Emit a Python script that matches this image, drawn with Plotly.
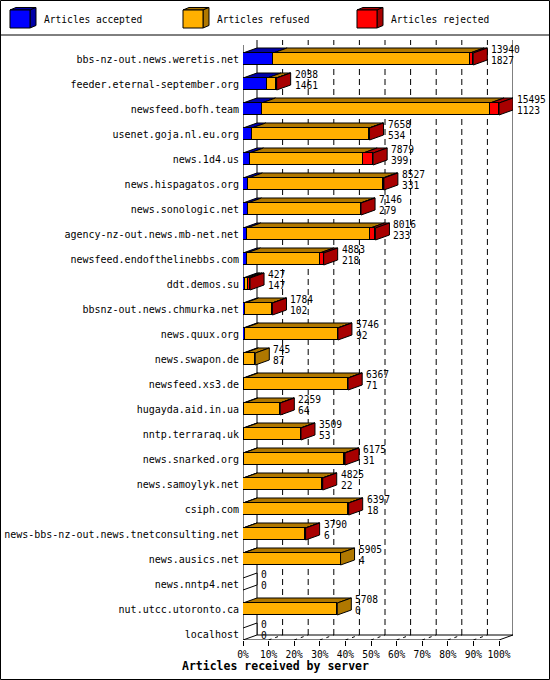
import plotly.graph_objects as go

# servers, sorted by accepted articles
servers = [
    "bbs-nz-out.news.weretis.net", "feeder.eternal-september.org", "newsfeed.bofh.team",
    "usenet.goja.nl.eu.org", "news.1d4.us", "news.hispagatos.org", "news.sonologic.net",
    "agency-nz-out.news.mb-net.net", "newsfeed.endofthelinebbs.com", "ddt.demos.su",
    "bbsnz-out.news.chmurka.net", "news.quux.org", "news.swapon.de", "newsfeed.xs3.de",
    "hugayda.aid.in.ua", "nntp.terraraq.uk", "news.snarked.org", "news.samoylyk.net",
    "csiph.com", "news-bbs-nz-out.news.tnetconsulting.net", "news.ausics.net",
    "news.nntp4.net", "nut.utcc.utoronto.ca", "localhost",
]
offered = [13940, 2038, 15495, 7658, 7879, 8527, 7146, 8016, 4883, 427, 1784, 5746,
           745, 6367, 2259, 3509, 6175, 4825, 6397, 3790, 5905, 0, 5708, 0]
accepted = [1827, 1461, 1123, 534, 399, 331, 279, 233, 218, 147, 102, 92,
            87, 71, 64, 53, 31, 22, 18, 6, 4, 0, 0, 0]
rejected = [200, 20, 545, 30, 605, 60, 30, 300, 240, 120, 20, 20,
            0, 15, 20, 20, 40, 15, 15, 15, 0, 0, 0, 0]
refused = [o - a - r for o, a, r in zip(offered, accepted, rejected)]

series = ["Articles accepted", "Articles refused", "Articles rejected"]
front = ["#0000FF", "#FFB000", "#FF0000"]
dark = ["#0000A8", "#B07800", "#A80000"]
pct_ticks = list(range(0, 101, 10))

FONT = "DejaVu Sans Mono"
W, H = 550, 680
L, R, T, B = 243, 37, 40, 40
plot_w = W - L - R
plot_h = H - T - B
px_x = 2.56          # pixels per percent
px_y = 25.0          # pixels per row
row0 = 59 - T        # first row centre, pixels below plot top
dxu = 14 / px_x      # depth in data units
dyu = 5 / px_y
bar_h = 12 / px_y

y_bot = (plot_h - row0) / px_y
y_top = -row0 / px_y

top = max(offered)
rows = list(range(len(servers)))
segs = [[v / top * 100 for v in s] for s in (accepted, refused, rejected)]

fig = go.Figure()
for k in range(3):
    base = [sum(segs[j][i] for j in range(k)) for i in rows]
    fig.add_trace(go.Bar(
        y=rows, x=segs[k], base=base, orientation="h", width=bar_h,
        marker=dict(color=front[k], line=dict(color="black", width=1)),
        name=series[k], showlegend=False, hoverinfo="skip"))

shapes = []


def line(x0, y0, x1, y1, dash="solid", xref="x", yref="y"):
    shapes.append(dict(type="line", x0=x0, y0=y0, x1=x1, y1=y1, xref=xref, yref=yref,
                       layer="below", line=dict(color="black", width=1, dash=dash)))


def poly(pts, fill, xref="x", yref="y", layer="below"):
    path = "M " + " L ".join("%f,%f" % p for p in pts) + " Z"
    shapes.append(dict(type="path", path=path, xref=xref, yref=yref, layer=layer,
                       fillcolor=fill, line=dict(color="black", width=1)))


# back wall grid and frame
yb = y_bot - dyu
for p in pct_ticks[1:-1]:
    line(p + dxu, yb, p + dxu, y_top, dash="6px,4px")
    line(p, y_bot, p + dxu, yb, dash="3px,4px")
line(dxu, yb, dxu, y_top)
line(100 + dxu, yb, 100 + dxu, y_top)
line(dxu, yb, 100 + dxu, yb)
line(0, y_bot, 100, y_bot)
line(100, y_bot, 100 + dxu, yb)
line(0, y_bot, 0, y_top + 5 / px_y)
line(-dxu * 1.1, y_bot + dyu, 0, y_bot)

# top and side faces of the bars
for i in rows:
    yt = i - bar_h / 2
    ybm = i + bar_h / 2
    x0 = 0
    last = None
    for k in range(3):
        w = segs[k][i]
        if w > 0:
            poly([(x0, yt), (x0 + w, yt), (x0 + w + dxu, yt - dyu), (x0 + dxu, yt - dyu)], dark[k])
            last = k
        x0 += w
    side = dark[last] if last is not None else "white"
    poly([(x0, yt), (x0, ybm), (x0 + dxu, ybm - dyu), (x0 + dxu, yt - dyu)], side)

annotations = []
for i in rows:
    xe = offered[i] / top * 100 + dxu
    for txt, off in ((offered[i], -0.37), (accepted[i], 0.07)):
        annotations.append(dict(x=xe, y=i + off, text=str(txt), showarrow=False,
                                xanchor="left", yanchor="middle", xshift=2,
                                font=dict(family=FONT, size=9.6, color="black")))


def px(xp, yp):
    return (xp - L) / plot_w, (H - B - yp) / plot_h


# legend cubes
for k, lx in enumerate([10, 183, 357]):
    fx0, fy0, fx1, fy1 = lx, 10, lx + 20, 28
    ddx, ddy = 6, 2.5
    poly([px(fx0, fy0), px(fx1, fy0), px(fx1 + ddx, fy0 - ddy), px(fx0 + ddx, fy0 - ddy)],
         dark[k], "paper", "paper", "above")
    poly([px(fx1, fy0), px(fx1, fy1), px(fx1 + ddx, fy1 - ddy), px(fx1 + ddx, fy0 - ddy)],
         dark[k], "paper", "paper", "above")
    poly([px(fx0, fy0), px(fx1, fy0), px(fx1, fy1), px(fx0, fy1)], front[k],
         "paper", "paper", "above")
    tx, ty = px(lx + 32, 19)
    annotations.append(dict(x=tx, y=ty, xref="paper", yref="paper", text=series[k],
                            showarrow=False, xanchor="left", yanchor="middle",
                            font=dict(family=FONT, size=9.6, color="black")))

# outer frame and separator
bx0, by0 = px(0.5, 0.5)
bx1, by1 = px(W - 0.5, H - 0.5)
shapes.append(dict(type="rect", xref="paper", yref="paper", x0=bx0, y0=by0, x1=bx1, y1=by1,
                   line=dict(color="black", width=1), layer="above"))
sx0, sy = px(0, 35)
sx1, _ = px(W, 35)
line(sx0, sy, sx1, sy, xref="paper", yref="paper")

tx, ty = px(W / 2, 666)
annotations.append(dict(x=tx, y=ty, xref="paper", yref="paper",
                        text="<b>Articles received by server</b>", showarrow=False,
                        xanchor="center", yanchor="middle",
                        font=dict(family=FONT, size=11.5, color="black")))

fig.update_layout(
    width=W, height=H, margin=dict(l=L, r=R, t=T, b=B, autoexpand=False),
    paper_bgcolor="white", plot_bgcolor="white",
    barmode="stack", bargap=0, showlegend=False,
    shapes=shapes, annotations=annotations,
    xaxis=dict(range=[0, 100 + dxu], tickvals=pct_ticks,
               ticktext=["%d%%" % p for p in pct_ticks], automargin=False,
               showgrid=False, zeroline=False, showline=False,
               ticks="outside", ticklen=5, tickcolor="black",
               tickfont=dict(family=FONT, size=9.6, color="black")),
    yaxis=dict(range=[y_bot, y_top], tickvals=rows, ticktext=servers, automargin=False,
               showgrid=False, zeroline=False, showline=False, ticks="",
               ticklabelstandoff=3,
               tickfont=dict(family=FONT, size=10, color="black")),
)

fig.write_html("out.html", config={"displayModeBar": False},
               post_script="document.body.style.margin='0px';")
